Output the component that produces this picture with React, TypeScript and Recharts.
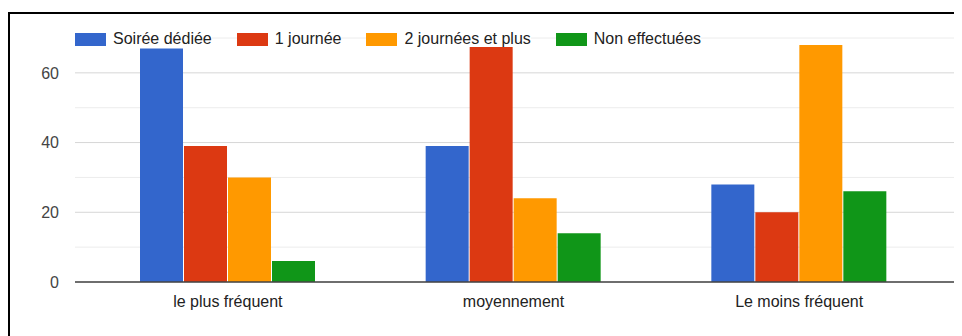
import { BarChart, Bar, XAxis, YAxis, CartesianGrid, Legend } from 'recharts';

const categories = ['le plus fréquent', 'moyennement', 'Le moins fréquent'];
const soireeDediee = [67, 39, 28];
const uneJournee = [39, 68, 20];
const deuxJournees = [30, 24, 68];
const nonEffectuees = [6, 14, 26];

const seriesNames = ['Soirée dédiée', '1 journée', '2 journées et plus', 'Non effectuées'];
const seriesColors = ['#3366cc', '#dc3912', '#ff9900', '#109618'];
const seriesValues = [soireeDediee, uneJournee, deuxJournees, nonEffectuees];

const yTicks = [0, 20, 40, 60];
const minorLines = [10, 30, 50, 70];

const data = categories.map((category, i) => {
  const row: Record<string, string | number> = { category };
  seriesValues.forEach((vals, s) => {
    row['s' + s] = vals[i];
  });
  return row;
});

const FONT = '"Liberation Sans", Arial, sans-serif';

// legend keeps the series order, not the alphabetical one
function LegendRow(props: any) {
  const items = [...(props.payload || [])].sort(
    (a: any, b: any) => seriesNames.indexOf(a.value) - seriesNames.indexOf(b.value)
  );
  return (
    <div style={{ display: 'flex', fontFamily: FONT, fontSize: 16, color: '#222' }}>
      {items.map((item: any, i: number) => (
        <div
          key={item.value}
          style={{
            display: 'flex',
            alignItems: 'center',
            height: 16,
            lineHeight: '16px',
            background: '#fff',
            marginRight: i < items.length - 1 ? 25 : 0,
          }}
        >
          <span style={{ width: 31, height: 13, background: item.color, marginRight: 7 }} />
          <span style={{ whiteSpace: 'nowrap' }}>{item.value}</span>
        </div>
      ))}
    </div>
  );
}

export default function App() {
  return (
    <div style={{ position: 'relative', width: 954, height: 328, overflow: 'hidden' }}>
      <div
        style={{
          position: 'absolute',
          left: 0,
          top: 4,
          width: 2000,
          height: 1000,
          border: '2px solid #000',
        }}
      />
      <div style={{ position: 'absolute', left: 0, top: 0 }}>
        <BarChart
          width={1000}
          height={320}
          data={data}
          margin={{ top: 30, right: 0, bottom: 16, left: 7 }}
          barSize={43}
          barGap={1}
          style={{ fontFamily: FONT }}
        >
          <CartesianGrid vertical={false} horizontalValues={minorLines} stroke="#ececec" />
          <CartesianGrid vertical={false} horizontalValues={yTicks} stroke="#d6d6d6" />
          <XAxis
            dataKey="category"
            height={30}
            padding={{ left: 10, right: 66 }}
            tickLine={false}
            tickSize={0}
            tickMargin={14}
            axisLine={{ stroke: '#444', strokeWidth: 1.5 }}
            tick={{ fontSize: 16, fill: '#222' }}
          />
          <YAxis
            width={60}
            domain={[0, 70]}
            ticks={yTicks}
            tickLine={false}
            axisLine={false}
            tickSize={0}
            tickMargin={16}
            tick={{ fontSize: 16, fill: '#444' }}
          />
          <Legend
            verticalAlign="middle"
            align="center"
            layout="horizontal"
            content={LegendRow}
            wrapperStyle={{ top: 23, left: 67, width: 'auto' }}
          />
          {seriesNames.map((name, s) => (
            <Bar
              key={name}
              dataKey={'s' + s}
              name={name}
              fill={seriesColors[s]}
              isAnimationActive={false}
            />
          ))}
        </BarChart>
      </div>
    </div>
  );
}
